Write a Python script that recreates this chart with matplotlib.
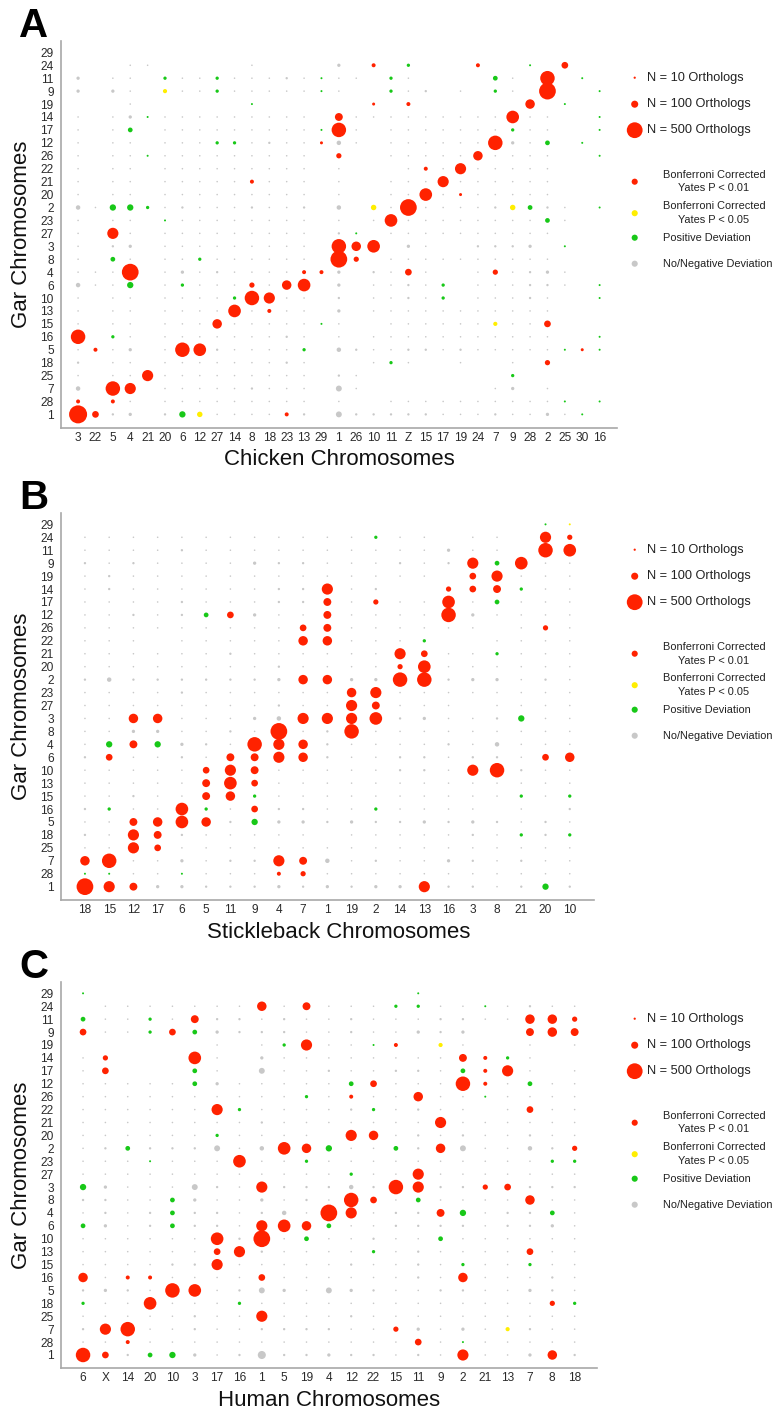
import matplotlib
matplotlib.use("Agg")
import matplotlib.pyplot as plt

plt.rcParams['font.family'] = ['Liberation Sans', 'DejaVu Sans']

W, H = 774, 1412
DPI = 100

# gar chromosomes, top of the y axis first
gar_chroms = ["29", "24", "11", "9", "19", "14", "17", "12", "26", "22", "21", "20", "2", "23",
              "27", "3", "8", "4", "6", "10", "13", "15", "16", "5", "18", "25", "7", "28", "1"]

# one string per gar chromosome (same order), one code per column, '-' = no dot
chicken_chroms = ["3", "22", "5", "4", "21", "20", "6", "12", "27", "14", "8", "18", "23", "13", "29",
                  "1", "26", "10", "11", "Z", "15", "17", "19", "24", "7", "9", "28", "2", "25", "30", "16"]
chicken_grid = [
    "- - - - -  - - - - -  - - - - -  - - - - -  - - - - -  - - - - -  -",
    "- - - . .  - - - - -  . - - - -  c - r - g  - - - r -  - e - m -  -",
    "c - . . -  g . . g .  . . : . e  . . - g .  - - - - G  . - H - e  -",
    "c - c . -  y . . g .  . . . . e  . - - g .  : - . - g  . - X - -  e",
    "- - - . -  - - - - -  e - - - -  - - q - r  - - - - -  - b - e -  -",
    ". - . c e  . . . . .  . . . . -  M . . . .  . . . . .  h . . - -  e",
    ". - . G -  . . . . .  . . . . e  H . - . .  . . . . .  g . . - -  e",
    ". - . . -  . . . g g  . : . . q  o . - . .  . . . . H  c . G - e  -",
    ". - . . e  . . . . .  . . . . -  s - - . .  . . . b .  . . . - -  e",
    ". - . . -  . . . . .  . . . . -  . - - - .  r . B . .  . . . - -  -",
    ". - . . -  . . . . .  r . . . -  . - - . .  . B . . .  . . . - -  -",
    ". - . . -  . . . . .  . . . . -  . - - . .  h . q . .  . . . - -  -",
    "o . E E g  . : . . .  : . . : -  o - Y . X  . . . . :  Y G : . -  e",
    ". - . . -  e . . . .  . . . . -  . - . h .  . . . . .  . . G . -  -",
    ". - B . -  . . . . .  . . . . -  : e - . .  . . . . .  . . . - -  -",
    ". - : c -  . . . . .  . . . . -  H b h - c  . - - : :  : c - e -  -",
    ". - G . -  . . g . .  . . . . -  X s - . .  . . . . .  . . . - -  -",
    ". . . X -  . c . : .  . . . r r  c - : . m  . - - . s  . : c . -  -",
    "o . . E -  . g . . .  s . b h -  c - . . :  . g - . .  . : : . -  e",
    ". - . . -  . . . . g  H B . . -  : - . . :  . g - . .  . : . - -  e",
    ". - . . -  . . . . h  . r . . -  c - . . .  . . . . .  . . . - -  -",
    ". - . . -  . . . b .  . . . . e  . - - . .  . . . . y  . . m - -  -",
    "H - g . -  . . . . .  . . : . -  . - . . .  . . . . .  . . . - -  e",
    ". r . c -  . H h : .  . . . g -  o : . . :  : . : . .  . . . e q  e",
    ": - . . -  . . . . .  . . : . -  - - . g .  - - . - -  . - s - -  -",
    ". - . . B  . . . . .  . . . . -  : . - - -  - - - - -  g - - - -  -",
    "o - H B -  . . . . .  : . . . -  O . - - -  - - - - .  c - . - -  -",
    "r - r . -  . . . . .  . . . . -  . - - . .  . . . . .  . . . e -  e",
    "Z m : c -  : E Y . .  . . r : -  O : : : :  : . . . :  . . c . e  -",
]

stickleback_chroms = ["18", "15", "12", "17", "6", "5", "11", "9", "4", "7", "1",
                      "19", "2", "14", "13", "16", "3", "8", "21", "20", "10"]
stickleback_grid = [
    "- - - - -  - - - - -  - - - - -  - - - - e  w",
    ". . . . .  . . . . .  . . g . .  - . . - B  s",
    ". . . . :  . . . . .  . . . . .  c . . - H  h",
    ": . : . .  . . c : :  . . . : .  : B G h .  .",
    ". : . . .  . . . . .  . . . . .  - m B . .  .",
    ". : . . .  . . . : :  B . : - -  s m M g .  .",
    ". . . . :  . . . : :  M . s . .  h . G . .  .",
    ". . : . :  G m c . .  M . . . .  H c . . .  .",
    ". . . . .  . . . . m  M . . . .  . . - . s  .",
    ". . . - .  . . . . b  b . . . g  - - . . .  .",
    ". . . . .  . : . . .  . . . B m  . . g . .  .",
    ". . . . .  . . . : .  . . . s h  . . . . .  .",
    ": o : : :  : : : c b  b c c H H  : c c . :  .",
    ". . . . :  . . . . .  . b B . .  . . . . .  .",
    ". . . . .  . . . : .  . B M . .  . - . . .  .",
    ". . b b .  . . c o B  B B h : c  . . : E .  .",
    ". . c c .  . : . X .  : H . . .  . . . . .  .",
    ". E M E c  : . H B b  : . . . .  : . o . .  .",
    ": m . . :  . M M B b  : . . : :  . : : . m  b",
    ". . . . .  m B M . .  . . . : :  . B H : .  .",
    ". . . . .  M h m . .  . . . . .  . . . . .  .",
    ". . : . .  M b g . .  . . . . .  . . . g .  g",
    ": g . . h  g . m : :  . . g . .  . . - . -  :",
    ". . M b h  b : E c c  : c : : c  : c : . :  .",
    ": . B M :  . . . . .  - . . . .  . : . g :  g",
    ". . B m .  . . . . .  . . . . .  . . . . .  .",
    "b H . . c  . : : B M  o . : . .  c : . : .  .",
    "e e . . e  . . . r s  . . . . .  . . . . .  .",
    "X B M c c  : : : c :  c : c c B  : : . : E  :",
]

human_chroms = ["6", "X", "14", "20", "10", "3", "17", "16", "1", "5", "19", "4",
                "12", "22", "15", "11", "9", "2", "21", "13", "7", "8", "18"]
human_grid = [
    "e - - - -  - - - - -  - - - - -  e - - - -  - - -",
    "- . . . .  . . . b .  M . . . g  g . . e .  : . .",
    "G . . g .  M : : . :  . . : . .  . : : . .  b b s",
    "m . . g m  G c : : :  . . : . .  c : c - -  M b M",
    "- - - - -  - . - . g  B . . e r  - y . - -  . - .",
    ". s - - -  h . - c .  . . . . .  . . M r g  . - -",
    ". m - - -  G . - O .  . : . . :  : . G r B  . - .",
    ". . . . .  G c . . .  . . G m .  . . H r .  G . .",
    ". . . . .  . . . . .  g . r . .  b . . e .  . . .",
    ". . . . .  . B g . .  . . : g .  : . . - .  m . .",
    ". . . . .  . . . : .  . . . . .  . B . . .  . . .",
    ". . . . .  . g . . .  . - B b .  : . : . .  : . .",
    ". : G : :  : O . o h  b E . . G  : b O . .  o : s",
    ". . . e .  . . h . .  g . . . .  . . . . .  . g g",
    ". . . . .  . . . . .  . . g . .  B . . . .  . . .",
    "E c . . .  O : . B :  : : o : H  B : : s m  : : :",
    ": : . . G  c . . c .  : . H m .  G . . . .  b . .",
    ". : . : G  : : . : o  . X B . :  : M E . :  : G .",
    "G c . : G  : : . B h  b G . . :  : : : . :  : c .",
    ". . . . .  . h : X .  G . . : .  . G . . .  . . .",
    ". . . . .  . m B : .  . . . g .  : . . . .  m . .",
    ". . . . :  : B . . .  . . : . .  : . g . .  g . .",
    "b . r r .  . . . m .  . . . . .  : . b . .  . : .",
    ": c : . H  h . : O c  . O c : .  . : : . .  c : .",
    "g . . h .  . . g . .  . . . . .  . . . . .  . s g",
    ". . . . .  : . . B .  . . : . .  . . . . .  . . .",
    ": B H . .  : . . : :  : : . . s  c . c . y  : . .",
    ". . r . .  . . . . .  . . . . .  m . e . .  . . .",
    "H m : G E  c . : Q :  : c : : .  : . B . .  c b :",
]

# code -> (ortholog count, significance class)
dot_codes = {
    '.': (5, 'neg'), ':': (11, 'neg'), 'c': (22, 'neg'), 'o': (40, 'neg'), 'O': (70, 'neg'), 'Q': (130, 'neg'),
    'e': (8, 'pos'), 'g': (22, 'pos'), 'G': (45, 'pos'), 'E': (80, 'pos'),
    'w': (8, 'p05'), 'y': (35, 'p05'), 'Y': (60, 'p05'),
    'q': (18, 'p01'), 'r': (32, 'p01'), 's': (55, 'p01'), 'm': (90, 'p01'), 'M': (125, 'p01'),
    'b': (180, 'p01'), 'B': (250, 'p01'), 'h': (320, 'p01'), 'H': (420, 'p01'), 'X': (560, 'p01'),
    'Z': (650, 'p01'),
}

status_colors = {'p01': '#ff2200', 'p05': '#ffee00', 'pos': '#18c818', 'neg': '#c8c8c8'}

legend_counts = [10, 100, 500]
legend_status = [
    ('p01', "Bonferroni Corrected\nYates P < 0.01"),
    ('p05', "Bonferroni Corrected\nYates P < 0.05"),
    ('pos', "Positive Deviation"),
    ('neg', "No/Negative Deviation"),
]


def fx(px):
    return px / W


def fy(py):
    return 1 - py / H


def size_pts(n):
    # marker area proportional to ortholog count (~16 px across for N = 500)
    return 0.259 * n


def draw_legend(fig, top):
    for n, dy in zip(legend_counts, [37, 63.5, 89.5]):
        fig.text(fx(647), fy(top + dy), f"N = {n} Orthologs", fontsize=9.2, va='center', color='#222222')
        fig.scatter_pts.append((634.7, top + dy, size_pts(n), status_colors['p01']))
    for (status, label), dy in zip(legend_status, [141, 172.5, 197, 223]):
        fig.scatter_pts.append((634.7, top + dy, size_pts(75), status_colors[status]))
        if "\n" in label:
            fig.text(fx(714), fy(top + dy), label, fontsize=7.9, ha='center', va='center',
                     multialignment='center', linespacing=1.45, color='#222222')
        else:
            fig.text(fx(663), fy(top + dy), label, fontsize=7.9, va='center', color='#222222')


def draw_panel(fig, box, letter, xlabel, xlabel_x, x_chroms, grid):
    left, top, right, bottom = box
    ax = fig.add_axes([fx(left), fy(bottom), (right - left) / W, (bottom - top) / H])
    n_rows = len(gar_chroms)
    xs, ys, ss, cs = [], [], [], []
    for i, row in enumerate(grid):
        for j, code in enumerate(row.split()):
            if code == '-':
                continue
            n, status = dot_codes[code]
            xs.append(j)
            ys.append(n_rows - 1 - i)
            ss.append(size_pts(n))
            cs.append(status_colors[status])
    ax.scatter(xs, ys, s=ss, c=cs, linewidths=0, zorder=3, clip_on=False)

    ax.set_xlim(-1, len(x_chroms))
    ax.set_ylim(-1.03, n_rows - 0.1)
    ax.set_xticks(range(len(x_chroms)))
    ax.set_xticklabels(x_chroms)
    ax.set_yticks(range(n_rows))
    ax.set_yticklabels(gar_chroms[::-1])
    ax.tick_params(axis='both', length=0, labelsize=8.6, labelcolor='#2a2a2a')
    ax.tick_params(axis='x', pad=3)
    ax.tick_params(axis='y', pad=5)
    for side in ['top', 'right']:
        ax.spines[side].set_visible(False)
    for side in ['left', 'bottom']:
        ax.spines[side].set_color('#a8a8a8')
        ax.spines[side].set_linewidth(1.2)

    fig.text(fx(xlabel_x), fy(bottom + 32), xlabel, fontsize=16, ha='center', va='center', color='#111111')
    fig.text(fx(22), fy((top + bottom) / 2), "Gar Chromosomes", fontsize=16, rotation=90,
             ha='center', va='center', color='#111111')
    fig.text(fx(19), fy(top - 4), letter, fontsize=29, fontweight='bold', va='baseline', color='black')
    draw_legend(fig, top)


fig = plt.figure(figsize=(W / DPI, H / DPI), dpi=DPI)
fig.scatter_pts = []

draw_panel(fig, (60.7, 40.7, 617, 427.7), "A", "Chicken Chromosomes", 339, chicken_chroms, chicken_grid)
draw_panel(fig, (60.7, 512.7, 594, 900), "B", "Stickleback Chromosomes", 339, stickleback_chroms, stickleback_grid)
draw_panel(fig, (60.7, 981.7, 597, 1368.3), "C", "Human Chromosomes", 329, human_chroms, human_grid)

# legend dots live on a full-figure overlay axes in pixel coordinates
overlay = fig.add_axes([0, 0, 1, 1], facecolor='none')
overlay.set_xlim(0, W)
overlay.set_ylim(H, 0)
overlay.axis('off')
px, py, ps, pc = zip(*fig.scatter_pts)
overlay.scatter(px, py, s=ps, c=pc, linewidths=0)

fig.savefig("out.png", dpi=DPI)
